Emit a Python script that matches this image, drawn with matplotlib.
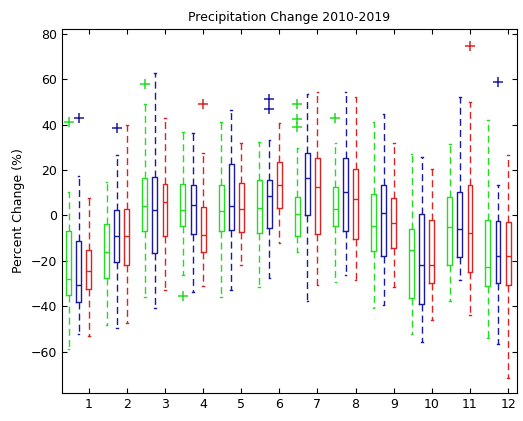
import matplotlib
matplotlib.use("Agg")
import matplotlib.pyplot as plt

months = list(range(1, 13))
# per series: (whisker low, q1, median, q3, whisker high)
green = [(-58.9, -34.8, -27.8, -7, 10.5), (-48, -27.5, -16, -3.8, 14.6), (-35.8, -6.7, 4.3, 16.4, 48.9),
         (-26, -4.8, 2.5, 13.9, 36.5), (-35.8, -6.7, 1.8, 13.5, 41), (-31.3, -7.6, 3.2, 15.4, 32.2),
         (-16, -9.2, 0.7, 8.3, 29.8), (-29.4, -4.8, 2.8, 12.4, 31.7), (-40.6, -15.5, -4.5, 9.5, 41),
         (-52.3, -36.2, -15, -5.8, 26.9), (-37.7, -21.6, -5.1, 8.3, 31.3), (-54.1, -31.1, -22.6, -1.9, 42)]
blue = [(-52.3, -38.2, -30.4, -11.1, 17.5), (-49.7, -20.6, -9.2, 2.5, 26.6), (-40.6, -16.5, 2.5, 16.8, 62.5),
        (-33.8, -8.2, 4.7, 13.5, 36.1), (-32.9, -6.3, 4.3, 22.7, 46.4), (-27.5, -5.3, 8.6, 15.4, 33.2),
        (-37.7, 0.3, 16.4, 27.4, 53.4), (-26, -7, 10.5, 25.4, 54.1), (-39.2, -17.7, 1.3, 13.5, 44.5),
        (-55.5, -38.9, -22, 0.7, 25.9), (-28.5, -18.2, -5.8, 10.5, 51.9), (-56.7, -29.6, -18, -2.3, 13.5)]
red = [(-53, -32.3, -24.6, -15, 7.6), (-47.5, -22, -9.2, 3, 40), (-32.9, -9.2, 6.1, 13.9, 43),
       (-31.1, -16, -8.5, 3.7, 27.4), (-22, -7.3, 2.8, 14.5, 31.7), (-12.1, 3.5, 13.5, 23.7, 40.8),
       (-30.4, -8.2, 12.4, 25.4, 54.4), (-28.5, -10.4, 7.2, 20.4, 52.2), (-31.3, -14.3, -3.3, 7.6, 32),
       (-46.2, -29.6, -22, -1.9, 20.4), (-43.6, -25, -7.5, 13.5, 50), (-71.3, -30.4, -18, -2.9, 26.6)]
green_out = {1: [41], 3: [57.8], 4: [-35.5], 7: [49, 42.4, 39], 8: [43]}
blue_out = {1: [43], 2: [38.6], 6: [51.2, 46.7], 12: [58.8]}
red_out = {4: [48.9], 11: [74.6]}

series = [(green, green_out, "#22dd22", -0.53), (blue, blue_out, "#1a1aa0", -0.265), (red, red_out, "#dd2222", 0.0)]

fig = plt.figure(figsize=(5.23, 4.21), dpi=100)
ax = fig.add_axes([0.118, 0.067, 0.871, 0.864])

for data, outs, col, off in series:
    stats = []
    for m, (wl, q1, med, q3, wh) in zip(months, data):
        stats.append(dict(whislo=wl, q1=q1, med=med, q3=q3, whishi=wh, fliers=outs.get(m, [])))
    ax.bxp(stats, positions=[m + off for m in months], widths=0.13, manage_ticks=False,
           boxprops=dict(color=col, lw=1), medianprops=dict(color=col, lw=1),
           whiskerprops=dict(color=col, lw=1, ls=(0, (5, 3))), capprops=dict(color=col, lw=1),
           capwidths=0.04,
           flierprops=dict(marker="+", markeredgecolor=col, markersize=7, mew=1.1, ls="none"))

ax.set_xlim(0.29, 12.24)
ax.set_ylim(-78, 82)
ax.set_xticks(months)
ax.set_yticks(range(-60, 81, 20))
ax.tick_params(direction="in", top=True, right=True, labelsize=9)
ax.set_ylabel("Percent Change (%)", fontsize=9)
ax.set_title("Precipitation Change 2010-2019", fontsize=9)
fig.savefig("out.png", dpi=100)
